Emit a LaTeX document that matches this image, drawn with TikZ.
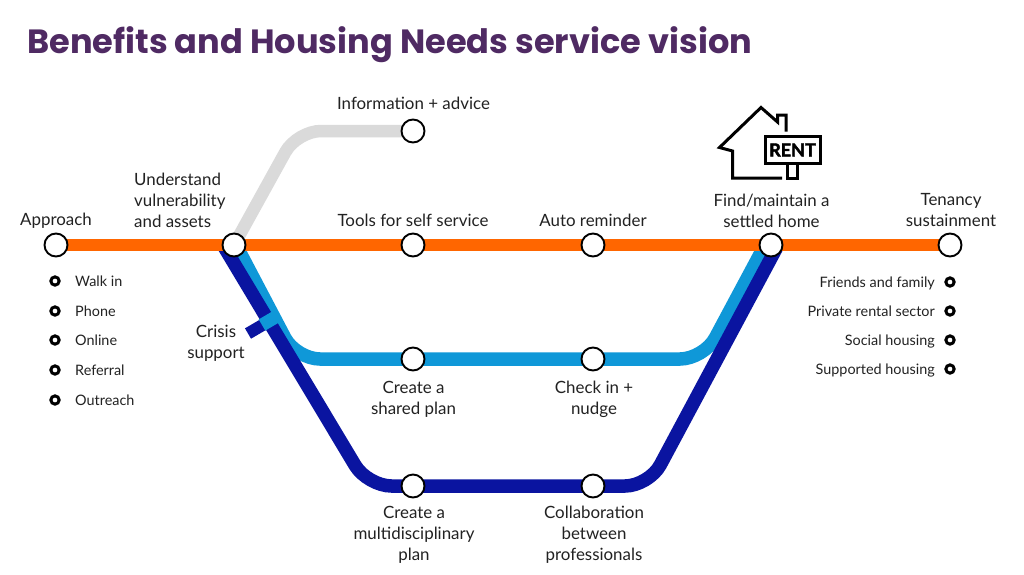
\documentclass[tikz,border=0pt]{standalone}
\usepackage{fontspec}
\setmainfont{Lato}
\newfontfamily\titlefont{Poppins}
\definecolor{orangeline}{HTML}{FF6600}
\definecolor{lightline}{HTML}{0F98D8}
\definecolor{darkline}{HTML}{0A14A0}
\definecolor{greyline}{HTML}{DADADA}
\definecolor{titlecol}{HTML}{4F2A63}
\definecolor{txt}{HTML}{222222}
\tikzset{
  station/.style={circle,draw=black,fill=white,line width=1.9pt,minimum size=23pt,inner sep=0pt},
  bullet/.style={circle,draw=black,fill=white,line width=3pt,minimum size=8.3pt,inner sep=0pt},
  lbl/.style={font=\fontsize{16.9}{21}\selectfont,text=txt,align=center,inner sep=0pt},
  small/.style={font=\fontsize{14.4}{16}\selectfont,text=txt,inner sep=0pt,text height=12pt,text depth=1pt},
  metro/.style={line width=13.5pt,rounded corners=24pt},
  icon/.style={line width=3pt,draw=black,line join=miter}
}
\begin{document}
\begin{tikzpicture}[x=1pt,y=-1pt]
\useasboundingbox (0,0) rectangle (1024,574);
\fill[white] (0,0) rectangle (1024,574);
\node[anchor=west,inner sep=0pt,text=titlecol,font=\titlefont\bfseries\fontsize{33.6}{40}\selectfont] (title) at (27,45) {Benefits and Housing Needs service vision};
% named geometry
\coordinate (S0) at (56,245);
\coordinate (S1) at (234,245);
\coordinate (S2) at (413,245);
\coordinate (S3) at (593,245);
\coordinate (S4) at (771,245);
\coordinate (S5) at (950,245);
\coordinate (G) at (413,131);
\coordinate (L1) at (413,359);
\coordinate (L2) at (593,359);
\coordinate (D1) at (413,486);
\coordinate (D2) at (593,486);
\coordinate (dls) at (223,245);
\coordinate (dlc) at (367.5,486);
\coordinate (drc) at (649,486);
\coordinate (dre) at (778,245);
\coordinate (lls) at (236,245);
\coordinate (llc) at (296,359);
\coordinate (lrc) at (704,359);
\coordinate (lre) at (765,245);
\coordinate (gc) at (297,131);
\coordinate (cda) at (248,333.5);
\coordinate (cdb) at (266,323);
\coordinate (cla) at (262,325);
\coordinate (clb) at (279,315);
% lines
\draw[metro,line width=12.5pt,greyline] (S1) -- (gc) -- (G);
\draw[metro,lightline] (lls) -- (llc) -- (lrc) -- (lre);
\draw[metro,darkline] (dls) -- (dlc) -- (drc) -- (dre);
\draw[line width=12pt,darkline] (cda) -- (cdb);
\draw[line width=13pt,lightline] (cla) -- (clb);
\draw[line width=12.5pt,orangeline] (S0) -- (S5);
% stations
\foreach \n in {S0,S1,S2,S3,S4,S5,G,L1,L2,D1,D2}
  \node[station] (n\n) at (\n) {};
% labels
\node[lbl] (t1) at (56,221) {Approach};
\node[lbl,align=left,anchor=west] (t2) at (134,200) {Understand\\vulnerability\\and assets};
\node[lbl] (t3) at (413.5,103.5) {Information + advice};
\node[lbl] (t4) at (413,220.5) {Tools for self service};
\node[lbl] (t5) at (593,220.5) {Auto reminder};
\node[lbl] (t6) at (771.5,210.5) {Find/maintain a\\settled home};
\node[lbl] (t7) at (951,210.5) {Tenancy\\sustainment};
\node[lbl] (t8) at (216,343) {Crisis\\support};
\node[lbl] (t9) at (413.5,399) {Create a\\shared plan};
\node[lbl] (t10) at (594,399) {Check in +\\nudge};
\node[lbl] (t11) at (414,535) {Create a\\multidisciplinary\\plan};
\node[lbl] (t12) at (594,535) {Collaboration\\between\\professionals};
% left list
\foreach \y/\t in {281/Walk in,311/Phone,340/Online,370/Referral,400/Outreach}{
  \node[bullet] at (55,\y) {};
  \node[small,anchor=west] at (75,\y) {\t};
}
% right list
\foreach \y/\t in {282/Friends and family,311/Private rental sector,340/Social housing,369/Supported housing}{
  \node[bullet] at (950,\y) {};
  \node[small,anchor=east] at (935,\y) {\t};
}
% house icon
\draw[icon] (782,178) -- (732.5,178) -- (732.5,151) -- (719.5,147.5) -- (761,107.5) -- (777.5,122) -- (777.5,115) -- (786,115) -- (786,131.5);
\draw[icon] (765,136.5) rectangle (820,163);
\draw[icon] (787.5,164) -- (787.5,178) -- (797.5,178) -- (797.5,164);
\node[inner sep=0pt,font=\bfseries\fontsize{18}{18}\selectfont,text=black] (rent) at (792.5,150) {\special{pdf:literal 2 Tr}RENT\special{pdf:literal 0 Tr}};
\end{tikzpicture}
\end{document}
